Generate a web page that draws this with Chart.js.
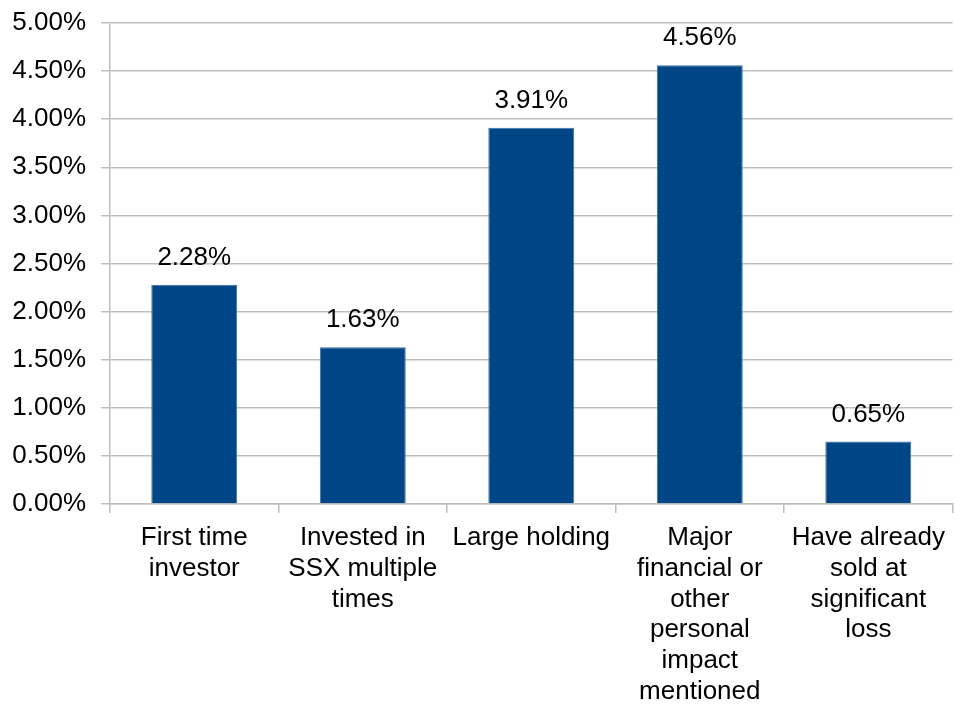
<!DOCTYPE html>
<html>
<head>
<meta charset="utf-8">
<script src="https://cdn.jsdelivr.net/npm/chart.js@4.4.0/dist/chart.umd.min.js"></script>
<style>
    html, body { margin: 0; padding: 0; background: #ffffff; }
    #wrap { width: 954px; height: 709px; position: relative; }
</style>
</head>
<body>
<div id="wrap"><canvas id="chart"></canvas></div>
<script>
// Chart data
const categories = [
    ['First time', 'investor'],
    ['Invested in', 'SSX multiple', 'times'],
    ['Large holding'],
    ['Major', 'financial or', 'other', 'personal', 'impact', 'mentioned'],
    ['Have already', 'sold at', 'significant', 'loss']
];
const values = [2.28, 1.63, 3.91, 4.56, 0.65];
const yMin = 0;
const yMax = 5;
const yStep = 0.5;

const barColor = '#004586';
const gridColor = '#bfbfbf';
const fontFamily = '"Liberation Sans", Arial, sans-serif';

// Draw value labels above bars
const valueLabels = {
    id: 'valueLabels',
    afterDatasetsDraw(chart) {
        const ctx = chart.ctx;
        const meta = chart.getDatasetMeta(0);
        ctx.save();
        ctx.font = '26px ' + fontFamily;
        ctx.fillStyle = '#000000';
        ctx.textAlign = 'center';
        ctx.textBaseline = 'middle';
        meta.data.forEach((bar, i) => {
            ctx.fillText(values[i].toFixed(2) + '%', bar.x, bar.y - 27);
        });
        ctx.restore();
    }
};

new Chart(document.getElementById('chart').getContext('2d'), {
    type: 'bar',
    data: {
        labels: categories,
        datasets: [{
            data: values,
            backgroundColor: barColor,
            borderColor: '#3b6fa8',
            borderWidth: 1,
            categoryPercentage: 1,
            barPercentage: 0.51
        }]
    },
    options: {
        responsive: true,
        maintainAspectRatio: false,
        animation: false,
        layout: { padding: { top: 23, right: 1, left: 0, bottom: 0 } },
        plugins: {
            legend: { display: false },
            tooltip: { enabled: false }
        },
        scales: {
            x: {
                offset: true,
                grid: {
                    offset: true,
                    drawOnChartArea: false,
                    drawTicks: true,
                    tickLength: 9,
                    color: gridColor,
                    lineWidth: 1.5
                },
                border: { color: gridColor, width: 1.5 },
                ticks: {
                    color: '#000000',
                    font: { family: fontFamily, size: 26, lineHeight: 1.19 },
                    maxRotation: 0,
                    autoSkip: false,
                    padding: 9
                },
                afterFit(scale) { scale.height = 205; }
            },
            y: {
                min: yMin,
                max: yMax,
                grid: {
                    color: gridColor,
                    lineWidth: 1.5,
                    tickLength: 9
                },
                border: { color: gridColor, width: 1.5 },
                ticks: {
                    stepSize: yStep,
                    color: '#000000',
                    font: { family: fontFamily, size: 26 },
                    padding: 15,
                    callback: v => v.toFixed(2) + '%'
                },
                afterFit(scale) {
                    scale.width = 110;
                    scale.paddingTop = 0;
                    scale.paddingBottom = 0;
                }
            }
        }
    },
    plugins: [valueLabels]
});
</script>
</body>
</html>
